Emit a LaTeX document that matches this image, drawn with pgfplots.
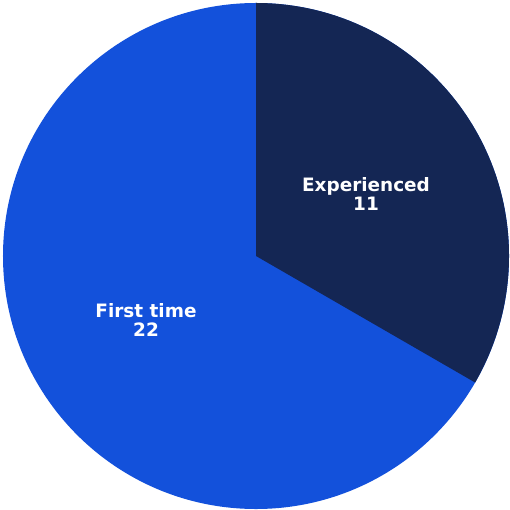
\documentclass[border=0pt]{standalone}
\usepackage{pgfplots}
\pgfplotsset{compat=1.18}
\usepackage{fontspec}
\setmainfont{DejaVu Sans}
\definecolor{navy}{HTML}{142654}
\definecolor{pblue}{HTML}{1351DB}
\begin{document}
\begin{tikzpicture}
\pgfmathsetmacro{\va}{11}
\pgfmathsetmacro{\vb}{22}
\pgfmathsetmacro{\tot}{\va+\vb}
\pgfmathsetmacro{\aend}{90-360*\va/\tot}
\begin{axis}[
  x=1bp, y=1bp,
  xmin=0, xmax=509, ymin=0, ymax=510,
  y dir=reverse,
  hide axis, clip=false,
  scale only axis,
]
\path (axis cs:0,0) rectangle (axis cs:509,510);
\fill[pblue] (axis cs:256,256) -- ++(90:253bp) arc[start angle=90, end angle=\aend-360, radius=253bp] -- cycle;
\fill[navy] (axis cs:256,256) -- ++(90:253bp) arc[start angle=90, end angle=\aend, radius=253bp] -- cycle;
\node[white, font=\bfseries\fontsize{18.5}{19.5}\selectfont, align=center, inner sep=0pt] at (axis cs:366,194) {Experienced\\11};
\node[white, font=\bfseries\fontsize{18.5}{19.5}\selectfont, align=center, inner sep=0pt] at (axis cs:146,320) {First time\\22};
\end{axis}
\end{tikzpicture}
\end{document}
